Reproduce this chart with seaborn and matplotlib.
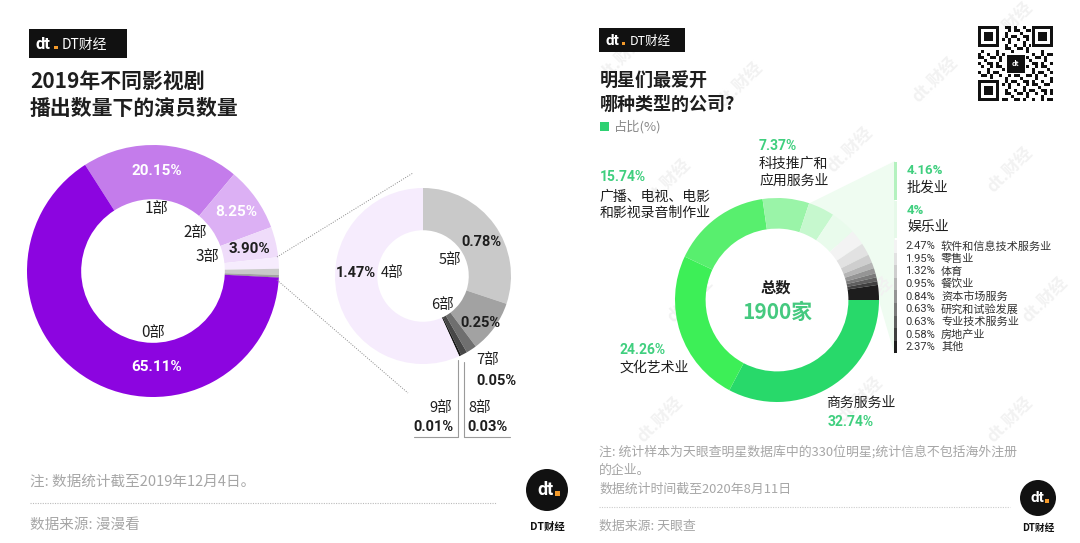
import numpy as np
import pandas as pd
import matplotlib
matplotlib.use("Agg")
import matplotlib.pyplot as plt
import seaborn as sns
from matplotlib.patches import Rectangle, Circle, Polygon

sns.set_theme(style="white")
plt.rcParams['font.family'] = ['Noto Sans CJK SC', 'DejaVu Sans']

# ---------------- data ----------------
left_parts = ['0部', '1部', '2部', '3部', '4部', '5部', '6部', '7部', '8部', '9部']
left_share = [65.11, 20.15, 8.25, 3.90, 1.47, 0.78, 0.25, 0.05, 0.03, 0.01]
left_colors = ['#8c05e0', '#c47ceb', '#dcb0f4', '#efdcfa', '#f6ecfd',
               '#c9c9c9', '#a2a2a2', '#6f6f6f', '#474747', '#151515']

right_types = ['商务服务业', '文化艺术业', '广播、电视、电影\n和影视录音制作业', '科技推广和\n应用服务业',
               '批发业', '娱乐业', '软件和信息技术服务业', '零售业', '体育', '餐饮业',
               '资本市场服务', '研究和试验发展', '专业技术服务业', '房地产业', '其他']
right_share = [32.74, 24.26, 15.74, 7.37, 4.16, 4, 2.47, 1.95, 1.32, 0.95, 0.84, 0.63, 0.63, 0.58, 2.37]
right_total = 1900

W, H = 1080, 543
fig = plt.figure(figsize=(W / 100, H / 100), dpi=100)
fig.patch.set_facecolor('white')

bg = fig.add_axes([0, 0, 1, 1])
bg.set_xlim(0, W); bg.set_ylim(H, 0); bg.axis('off')


def pie_axes(cx, cy, r):
    a = fig.add_axes([(cx - r) / W, 1 - (cy + r) / H, 2 * r / W, 2 * r / H])
    a.set_xlim(-1, 1); a.set_ylim(-1, 1); a.set_aspect('equal'); a.axis('off')
    return a


# watermarks (right panel, behind everything)
for (wx, wy) in [(622, 58), (668, 182), (690, 300), (850, 150), (870, 300), (1010, 25),
                 (1010, 170), (1045, 300), (860, 400), (660, 420), (1010, 420), (740, 85), (935, 80)]:
    bg.text(wx, wy, 'dt.财经', color='#f2f2f2', fontsize=12, fontweight='bold', rotation=45,
            ha='center', va='center')

df_left = pd.DataFrame({'part': left_parts, 'share': left_share, 'color': left_colors})

# ---- big donut (left) : clockwise 1..9 then 0
order = df_left.iloc[list(range(1, 10)) + [0]]
axL = pie_axes(153, 271, 126)
axL.pie(order['share'], colors=order['color'], startangle=122.6, counterclock=False,
        radius=1, wedgeprops=dict(width=0.43, linewidth=0))
axL.set_xlim(-1, 1); axL.set_ylim(-1, 1)

# ---- zoomed donut : parts 5..9 then 4, clockwise from top
zoom = df_left.iloc[[5, 6, 7, 8, 9, 4]]
axZ = pie_axes(423, 276, 88)
axZ.pie(zoom['share'], colors=zoom['color'], startangle=90, counterclock=False,
        radius=1, wedgeprops=dict(width=0.48, linewidth=0))
axZ.set_xlim(-1, 1); axZ.set_ylim(-1, 1)

# ---- right donut
greys = sns.color_palette("Greys", 9)
right_colors = ['#28d96a', '#3def57', '#58ef6e', '#9af4a8', '#c6f8ce', '#e9fbec'] + list(greys)

# fan from ring to legend (background)
bg.add_patch(Polygon([(808, 204), (895, 161), (895, 356), (879, 301)], closed=True,
                     facecolor='#effcf1', edgecolor='none'))

axR = pie_axes(777, 300, 102)
axR.pie(right_share, colors=right_colors, startangle=0, counterclock=False,
        radius=1, wedgeprops=dict(width=0.3, linewidth=0))
axR.set_xlim(-1, 1); axR.set_ylim(-1, 1)

# ---------------- overlay ----------------
ov = fig.add_axes([0, 0, 1, 1], facecolor='none')
ov.set_xlim(0, W); ov.set_ylim(H, 0); ov.axis('off')

NUM = ['Roboto', 'DejaVu Sans']
DARK = '#1e1e1e'
GREEN_T = '#3fcf7e'
GRAY_T = '#a6a6a6'


def logo_box(x, y, w, h, fs):
    ov.add_patch(Rectangle((x, y), w, h, facecolor='#111111', edgecolor='none'))
    ov.text(x + 6, y + h / 2 + 1, 'dt', color='white', fontsize=fs + 2, fontweight='bold',
            family=NUM, ha='left', va='center')
    ov.add_patch(Rectangle((x + 6 + fs * 1.9, y + h * 0.58), fs * 0.35, fs * 0.35,
                           facecolor='#f39a2b', edgecolor='none'))
    ov.text(x + 6 + fs * 2.7, y + h / 2 + 1, 'DT财经', color='white', fontsize=fs,
            ha='left', va='center')


def round_logo(cx, cy, r, fs):
    ov.add_patch(Circle((cx, cy), r, facecolor='#111111', edgecolor='none'))
    ov.text(cx - 1, cy, 'dt', color='white', fontsize=fs, fontweight='bold', family=NUM,
            ha='center', va='center')
    ov.add_patch(Rectangle((cx + r * 0.38, cy + r * 0.05), r * 0.22, r * 0.22,
                           facecolor='#f39a2b', edgecolor='none'))


# ---- left panel header
logo_box(29, 29, 98, 29, 10)
ov.text(30, 81, '2019年不同影视剧', fontsize=15, color=DARK, fontweight='bold', ha='left', va='center')
ov.text(30, 108, '播出数量下的演员数量', fontsize=15, color=DARK, fontweight='bold', ha='left', va='center')

fmtL = [f"{v:.2f}%" for v in left_share]
# big donut labels
ov.text(157, 171, fmtL[1], color='white', fontsize=11, fontweight='bold', family=NUM, ha='center', va='center')
ov.text(157, 209, left_parts[1], color=DARK, fontsize=11, ha='center', va='center')
ov.text(236, 212, fmtL[2], color='white', fontsize=11, fontweight='bold', family=NUM, ha='center', va='center')
ov.text(195, 233, left_parts[2], color=DARK, fontsize=11, ha='center', va='center')
ov.text(207, 256, left_parts[3], color=DARK, fontsize=11, ha='center', va='center')
ov.text(249, 249, fmtL[3], color=DARK, fontsize=11, fontweight='bold', family=NUM, ha='center', va='center')
ov.text(153, 333, left_parts[0], color=DARK, fontsize=11, ha='center', va='center')
ov.text(157, 367, fmtL[0], color='white', fontsize=11, fontweight='bold', family=NUM, ha='center', va='center')

# connector dotted lines
ov.plot([277, 413], [257, 173], color='#888888', lw=0.7, ls=(0, (1, 1.5)))
ov.plot([277, 408], [280, 393], color='#888888', lw=0.7, ls=(0, (1, 1.5)))

# zoomed donut labels
ov.text(356, 273, fmtL[4], color=DARK, fontsize=10.5, fontweight='bold', family=NUM, ha='center', va='center')
ov.text(392, 273, left_parts[4], color=DARK, fontsize=10.5, ha='center', va='center')
ov.text(481, 242, fmtL[5], color=DARK, fontsize=10.5, fontweight='bold', family=NUM, ha='center', va='center')
ov.text(450, 260, left_parts[5], color=DARK, fontsize=10.5, ha='center', va='center')
ov.text(443, 305, left_parts[6], color=DARK, fontsize=10.5, ha='center', va='center')
ov.text(480, 323, fmtL[6], color=DARK, fontsize=10.5, fontweight='bold', family=NUM, ha='center', va='center')
ov.text(488, 360, left_parts[7], color=DARK, fontsize=10.5, ha='center', va='center')
ov.text(496, 381, fmtL[7], color=DARK, fontsize=10.5, fontweight='bold', family=NUM, ha='center', va='center')
ov.text(441, 408, left_parts[9], color=DARK, fontsize=10.5, ha='center', va='center')
ov.text(433, 427, fmtL[9], color=DARK, fontsize=10.5, fontweight='bold', family=NUM, ha='center', va='center')
ov.text(480, 408, left_parts[8], color=DARK, fontsize=10.5, ha='center', va='center')
ov.text(488, 427, fmtL[8], color=DARK, fontsize=10.5, fontweight='bold', family=NUM, ha='center', va='center')
ov.plot([458, 458, 414], [360, 437, 437], color='#9a9a9a', lw=0.8)
ov.plot([464, 464, 510], [362, 437, 437], color='#9a9a9a', lw=0.8)

# left footer
ov.text(30, 482, '注: 数据统计截至2019年12月4日。', color=GRAY_T, fontsize=10.5, ha='left', va='center')
ov.plot([30, 496], [503, 503], color='#bbbbbb', lw=0.8, ls=(0, (1, 1.2)))
ov.text(30, 525, '数据来源: 漫漫看', color=GRAY_T, fontsize=10.5, ha='left', va='center')
round_logo(547, 490, 21, 13)
ov.text(547, 527, 'DT财经', color='#111111', fontsize=7.5, fontweight='bold', ha='center', va='center')

# ---- right panel header
logo_box(599, 28, 86, 24, 9)
ov.text(600, 80, '明星们最爱开', fontsize=13, color=DARK, fontweight='bold', ha='left', va='center')
ov.text(600, 104, '哪种类型的公司?', fontsize=13, color=DARK, fontweight='bold', ha='left', va='center')
ov.add_patch(Rectangle((600, 122), 9, 9, facecolor='#2ed172', edgecolor='none'))
ov.text(614, 127, '占比(%)', color='#8a8a8a', fontsize=9.5, ha='left', va='center')

# QR code (decorative)
qx, qy, m = 978, 26, 3
N = 25
for i in range(N):
    for j in range(N):
        if ((i * 7 + j * 13 + i * j) % 3 == 0) or ((i + 2 * j) % 5 == 0):
            ov.add_patch(Rectangle((qx + j * m, qy + i * m), m, m, facecolor='#111111', edgecolor='none'))
for (fx, fy) in [(0, 0), (N - 7, 0), (0, N - 7)]:
    ov.add_patch(Rectangle((qx + fx * m - 1, qy + fy * m - 1), 8 * m + 1, 8 * m + 1, facecolor='white', edgecolor='none'))
    ov.add_patch(Rectangle((qx + fx * m, qy + fy * m), 7 * m, 7 * m, facecolor='#111111', edgecolor='none'))
    ov.add_patch(Rectangle((qx + fx * m + m, qy + fy * m + m), 5 * m, 5 * m, facecolor='white', edgecolor='none'))
    ov.add_patch(Rectangle((qx + fx * m + 2 * m, qy + fy * m + 2 * m), 3 * m, 3 * m, facecolor='#111111', edgecolor='none'))
ov.add_patch(Rectangle((qx + 9 * m, qy + 9 * m), 7 * m, 7 * m, facecolor='white', edgecolor='none'))
ov.add_patch(Rectangle((qx + 9.5 * m, qy + 9.5 * m), 6 * m, 6 * m, facecolor='#111111', edgecolor='none'))
ov.text(qx + 12.5 * m, qy + 12.5 * m, 'dt', color='white', fontsize=5, fontweight='bold', ha='center', va='center')

fmtR = [f"{v:g}%" for v in right_share]
# ring labels
ov.text(600, 177, fmtR[2], color=GREEN_T, fontsize=10, fontweight='bold', family=NUM, ha='left', va='center')
ov.text(600, 205, right_types[2], color=DARK, fontsize=10, ha='left', va='center', linespacing=1.25)
ov.text(759, 146, fmtR[3], color=GREEN_T, fontsize=10, fontweight='bold', family=NUM, ha='left', va='center')
ov.text(759, 172, right_types[3], color=DARK, fontsize=10, ha='left', va='center', linespacing=1.25)
ov.text(620, 350, fmtR[1], color=GREEN_T, fontsize=10, fontweight='bold', family=NUM, ha='left', va='center')
ov.text(620, 368, right_types[1], color=DARK, fontsize=10, ha='left', va='center')
ov.text(826, 403, right_types[0], color=DARK, fontsize=10, ha='left', va='center')
ov.text(828, 422, fmtR[0], color=GREEN_T, fontsize=10, fontweight='bold', family=NUM, ha='left', va='center')
ov.text(776, 288, '总数', color=DARK, fontsize=11, fontweight='bold', ha='center', va='center')
ov.text(777, 312, f'{right_total}家', color='#45c97f', fontsize=15, fontweight='bold', ha='center', va='center')

# side legend
bar_x = 894
ov.add_patch(Rectangle((bar_x, 162), 2.5, 38, facecolor='#b4f2bf', edgecolor='none'))
ov.add_patch(Rectangle((bar_x, 201), 2.5, 37, facecolor='#e6f9e9', edgecolor='none'))
ov.text(907, 170, fmtR[4], color=GREEN_T, fontsize=9.5, fontweight='bold', family=NUM, ha='left', va='center')
ov.text(907, 188, right_types[4], color=DARK, fontsize=10, ha='left', va='center')
ov.text(907, 210, fmtR[5], color=GREEN_T, fontsize=9.5, fontweight='bold', family=NUM, ha='left', va='center')
ov.text(907, 227, right_types[5], color=DARK, fontsize=10, ha='left', va='center')
y0, step = 240, 12.6
for k in range(9):
    ov.add_patch(Rectangle((bar_x, y0 + k * step), 2.5, step, facecolor=greys[k], edgecolor='none'))
    yy = y0 + k * step + step / 2
    ov.text(905, yy, fmtR[6 + k], color='#333333', fontsize=8, family=NUM, ha='left', va='center')
    ov.text(941, yy, right_types[6 + k], color='#333333', fontsize=8, ha='left', va='center')

# right footer
ov.text(599, 452, '注: 统计样本为天眼查明星数据库中的330位明星;统计信息不包括海外注册', color=GRAY_T,
        fontsize=9.3, ha='left', va='center')
ov.text(599, 470, '的企业。', color=GRAY_T, fontsize=9.3, ha='left', va='center')
ov.text(599, 489, '数据统计时间截至2020年8月11日', color=GRAY_T, fontsize=9.3, ha='left', va='center')
ov.plot([599, 1010], [507, 507], color='#cccccc', lw=0.8, ls=(0, (1, 1.2)))
ov.text(599, 526, '数据来源: 天眼查', color=GRAY_T, fontsize=9.3, ha='left', va='center')
round_logo(1038, 498, 18, 11)
ov.text(1038, 528, 'DT财经', color='#111111', fontsize=7, fontweight='bold', ha='center', va='center')

fig.savefig('out.png', dpi=100, facecolor='white')
